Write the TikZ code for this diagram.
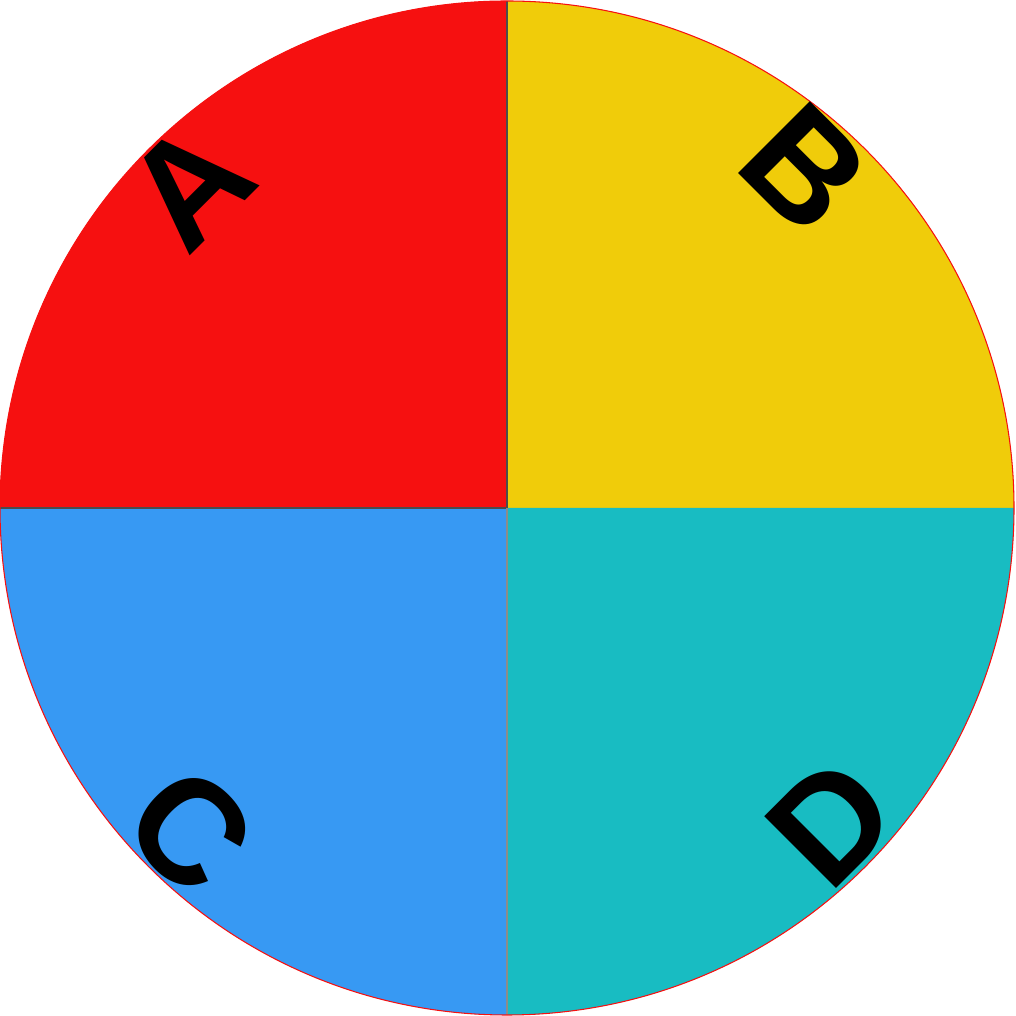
\documentclass[tikz,border=0pt]{standalone}
\usepackage{fontspec}
\setmainfont{Liberation Sans}
\definecolor{rojo}{RGB}{246,16,16}
\definecolor{amarillo}{RGB}{240,204,10}
\definecolor{azul}{RGB}{55,153,243}
\definecolor{turquesa}{RGB}{24,188,194}

\begin{document}
\begin{tikzpicture}[line width=0.3pt,
  letra/.style={inner sep=0pt,font=\fontsize{42}{42}\selectfont\bfseries}]
  \useasboundingbox (0,0) rectangle (10.16,10.16);
  % centro y radio
  \coordinate (O) at (5.07,5.08);
  \def\r{5.07}
  % cuadrantes
  \fill[amarillo] (O) -- ++(0,\r) arc[start angle=90,end angle=0,radius=\r] -- cycle;
  \fill[rojo] (O) -- ++(-\r,0) arc[start angle=180,end angle=90,radius=\r] -- cycle;
  \fill[azul] (O) -- ++(-\r,0) arc[start angle=180,end angle=270,radius=\r] -- cycle;
  \fill[turquesa] (O) -- ++(0,-\r) arc[start angle=270,end angle=360,radius=\r] -- cycle;
  % divisiones
  \draw[black!70] (O) -- ++(0,\r) (O) -- ++(-\r,0);
  \draw[black!45] (O) -- ++(0,-\r);
  \draw[rojo] (O) circle[radius=\r];
  % letras
  \node[letra,rotate=45] (A) at (1.89,8.31) {A};
  \node[letra,rotate=-45] (B) at (8.05,8.48) {B};
  \node[letra,rotate=-45] (C) at (1.90,1.86) {C};
  \node[letra,rotate=45] (D) at (8.31,1.94) {D};
\end{tikzpicture}
\end{document}
